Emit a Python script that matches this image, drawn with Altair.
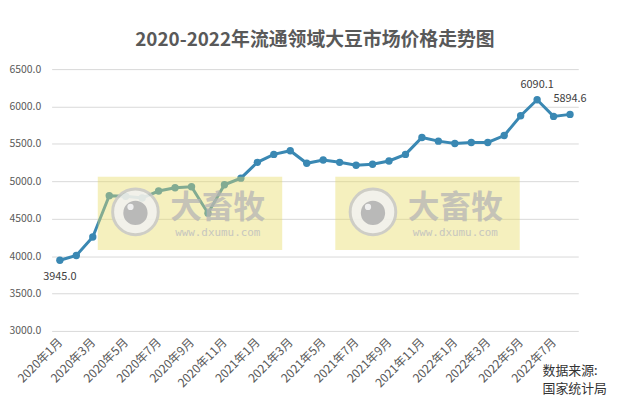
import altair as alt
import pandas as pd

months = [
    "2020年1月", "2020年2月", "2020年3月", "2020年4月", "2020年5月", "2020年6月",
    "2020年7月", "2020年8月", "2020年9月", "2020年10月", "2020年11月", "2020年12月",
    "2021年1月", "2021年2月", "2021年3月", "2021年4月", "2021年5月", "2021年6月",
    "2021年7月", "2021年8月", "2021年9月", "2021年10月", "2021年11月", "2021年12月",
    "2022年1月", "2022年2月", "2022年3月", "2022年4月", "2022年5月", "2022年6月",
    "2022年7月", "2022年8月",
]
prices = [
    3945.0, 4009, 4256, 4808, 4800, 4777,
    4870, 4914, 4928, 4574, 4954, 5042,
    5254, 5360, 5409, 5241, 5285, 5254,
    5215, 5228, 5272, 5360, 5586, 5537,
    5506, 5519, 5519, 5612, 5877, 6090.1,
    5868, 5894.6,
]
tick_labels = months[::2]
y_ticks = [3000, 3500, 4000, 4500, 5000, 5500, 6000, 6500]
below_labels = ["2020年1月"]
above_labels = ["2022年6月", "2022年8月"]
title_text = "2020-2022年流通领域大豆市场价格走势图"
source_text = "数据来源:\n国家统计局"

FONT = "Noto Sans CJK SC"
LINE = "#3a88b3"
W, H = 531, 264

df = pd.DataFrame({"month": months, "price": prices})
df["label"] = df["price"].map(lambda v: f"{v:.1f}")

x = alt.X(
    "month:N", sort=months,
    scale=alt.Scale(type="point", padding=0.5),
    axis=alt.Axis(
        values=tick_labels, labelAngle=-45, labelAlign="right", labelBaseline="middle",
        labelPadding=9, labelFontSize=12, labelColor="#595959", labelFont=FONT,
        ticks=False, domain=False, grid=False, title=None, labelOverlap=False,
    ),
)
y = alt.Y(
    "price:Q",
    scale=alt.Scale(domain=[3000, 6500], nice=False, zero=False),
    axis=alt.Axis(
        values=y_ticks, format=".1f", title=None, grid=True, gridColor="#d9d9d9",
        gridWidth=1, ticks=False, domain=False, labelPadding=11, labelFontSize=10.5,
        labelColor="#595959", labelFont=FONT,
    ),
)

base = alt.Chart(df)
line = base.mark_line(color=LINE, strokeWidth=3).encode(x=x, y=y)
pts = base.mark_point(filled=True, color=LINE, size=55, opacity=1).encode(x=x, y=y)
lab_below = base.transform_filter(
    alt.FieldOneOfPredicate(field="month", oneOf=below_labels)
).mark_text(baseline="middle", dy=17, fontSize=11, color="#404040", font=FONT).encode(
    x=x, y=y, text="label:N")
lab_above = base.transform_filter(
    alt.FieldOneOfPredicate(field="month", oneOf=above_labels)
).mark_text(baseline="middle", dy=-15, fontSize=11, color="#404040", font=FONT).encode(
    x=x, y=y, text="label:N")

one = pd.DataFrame({"k": [0]})


def watermark(x0):
    c = alt.Chart(one)
    box = c.mark_rect(color="#e6dc64", opacity=0.42).encode(
        x=alt.value(x0), x2=alt.value(x0 + 186), y=alt.value(108.5), y2=alt.value(182.5))
    ring = c.mark_point(shape="circle", filled=True, color="#f2f2f2", opacity=0.85,
                        stroke="#c8c8c8", strokeWidth=3, size=2116).encode(
        x=alt.value(x0 + 38), y=alt.value(144))
    dot = c.mark_point(shape="circle", filled=True, color="#b3b3b3", opacity=0.9,
                       size=600).encode(x=alt.value(x0 + 38), y=alt.value(145))
    hi = c.mark_point(shape="circle", filled=True, color="#f5f5f5", opacity=0.9,
                      size=40).encode(x=alt.value(x0 + 33), y=alt.value(139))
    big = c.mark_text(text="大畜牧", fontSize=32, fontWeight="bold", font=FONT,
                      color="#b5b5b5", opacity=0.75, align="center", baseline="middle").encode(
        x=alt.value(x0 + 121), y=alt.value(140))
    url = c.mark_text(text="www.dxumu.com", fontSize=11, font="DejaVu Sans Mono",
                      color="#c0c0c0", opacity=0.85, align="center", baseline="middle").encode(
        x=alt.value(x0 + 121), y=alt.value(165.5))
    return [box, ring, dot, hi, big, url]


source = alt.Chart(one).mark_text(
    text=source_text, lineBreak="\n", align="left", baseline="top", fontSize=13,
    lineHeight=19, font=FONT, color="#333333",
).encode(x=alt.value(495), y=alt.value(298))

chart = alt.layer(
    line, pts, *watermark(46.5), *watermark(286), lab_below, lab_above, source,
).properties(
    width=W, height=H,
    title=alt.TitleParams(title_text, fontSize=19, fontWeight="bold", color="#595959",
                          font=FONT, anchor="middle", offset=14),
    autosize=alt.AutoSizeParams(type="none"),
    padding={"left": 44, "top": 60, "right": 32, "bottom": 64},
).configure_view(stroke=None)

chart.save("out.html", embed_options={"renderer": "svg", "actions": False})
